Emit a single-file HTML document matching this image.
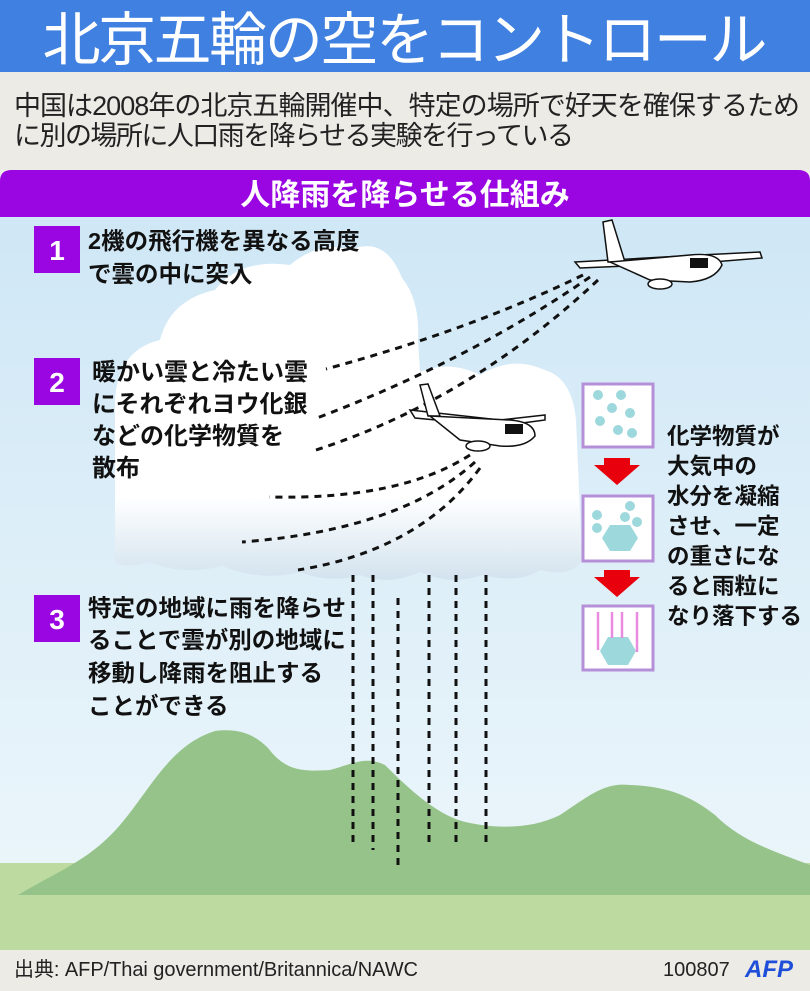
<!DOCTYPE html>
<html><head><meta charset="utf-8"><style>
body{margin:0;width:810px;height:986px;overflow:hidden;font-family:"Liberation Sans","Noto Sans CJK JP",sans-serif;background:#ecebe6}
svg text{font-family:"Liberation Sans","Noto Sans CJK JP",sans-serif}
</style></head><body>
<svg width="810" height="986" viewBox="0 0 810 986" xmlns="http://www.w3.org/2000/svg">
<defs>
<linearGradient id="sky" x1="0" y1="0" x2="0" y2="1"><stop offset="0" stop-color="#cfe7f6"/><stop offset="1" stop-color="#eef7fb"/></linearGradient>
<linearGradient id="cl" x1="0" y1="0" x2="0" y2="1"><stop offset="0.75" stop-color="#ffffff"/><stop offset="1" stop-color="#d3e3ee"/></linearGradient>
</defs>
<rect x="0" y="0" width="810" height="72" fill="#3f80e0"/>
<text x="405" y="60" font-size="58" fill="#fff" text-anchor="middle" textLength="725">北京五輪の空をコントロール</text>
<rect x="0" y="72" width="810" height="100" fill="#ecebe6"/>
<text x="14" y="115" font-size="27" fill="#222" textLength="786">中国は2008年の北京五輪開催中、特定の場所で好天を確保するため</text>
<text x="14" y="145" font-size="27" fill="#222" textLength="560">に別の場所に人口雨を降らせる実験を行っている</text>
<rect x="0" y="215" width="810" height="735" fill="url(#sky)"/>
<path d="M0,181 Q0,170 12,170 L798,170 Q810,170 810,181 L810,217 L0,217 Z" fill="#9a06e2"/>
<text x="405" y="205" font-size="30" font-weight="bold" fill="#fff" text-anchor="middle">人降雨を降らせる仕組み</text>
<rect x="0" y="863" width="810" height="87" fill="#bddba0"/>
<path d="M18,895 C60,870 90,860 120,825 C150,790 170,745 215,731 C240,728 255,735 268,748 C285,770 300,772 330,770 C350,765 365,755 385,765 C410,790 440,818 470,823 C495,828 530,830 560,815 C590,795 605,782 630,785 C665,786 690,795 715,815 C740,840 770,850 810,865 L810,895 Z" fill="#96c389"/>
<path d="M115,560 L115,400 Q118,350 160,340 Q170,300 215,290 Q240,258 290,265 Q320,240 350,250 Q385,235 402,278 Q420,300 418,340 L420,372 Q450,360 480,375 Q512,355 545,370 Q572,378 576,420 L582,560 Q572,578 540,570 Q520,584 482,575 Q452,586 420,572 Q390,586 360,575 Q330,584 300,572 Q262,582 222,566 Q182,576 150,562 Q120,570 115,560 Z" fill="url(#cl)"/>
<g stroke="#111" stroke-width="3" fill="none" stroke-dasharray="7,6">
<path d="M583,275 Q470,330 326,369"/>
<path d="M590,277 Q470,360 317,418"/>
<path d="M598,280 Q470,400 316,450"/>
<path d="M470,455 Q400,500 269,497"/>
<path d="M475,462 Q400,530 242,542"/>
<path d="M480,468 Q420,550 298,570"/>
<path d="M353,575 V847"/><path d="M373,575 V850"/><path d="M398,598 V866"/><path d="M429,575 V848"/><path d="M456,575 V848"/><path d="M486,575 V843"/>
</g>
<g stroke="#111" stroke-width="1.5" fill="#fff">
<path d="M575,262 L700,255 L760,252 L762,258 L700,263 L580,268 Z"/>
<path d="M603,222 L612,220 L625,262 L608,262 Z"/>
<path d="M610,262 L690,255 Q718,252 722,265 Q715,280 690,282 L650,280 Z"/>
<ellipse cx="660" cy="284" rx="12" ry="5"/>
<path d="M410,410 L500,420 L545,415 L545,420 L500,426 L415,418 Z"/>
<path d="M420,385 L428,384 L440,416 L428,416 Z"/>
<path d="M430,416 L510,420 Q535,422 535,436 Q525,448 500,446 L460,440 Z"/>
<ellipse cx="478" cy="446" rx="12" ry="5"/>
</g>
<g fill="#111"><rect x="690" y="258" width="18" height="10"/><rect x="505" y="424" width="18" height="10"/></g>
<g fill="#9a06e2"><rect x="34" y="226" width="46" height="47"/><rect x="34" y="358" width="46" height="47"/><rect x="34" y="595" width="46" height="47"/></g>
<g font-size="28" font-weight="bold" fill="#fff" text-anchor="middle"><text x="57" y="260">1</text><text x="57" y="392">2</text><text x="57" y="629">3</text></g>
<g font-size="24" font-weight="bold" fill="#111">
<text x="88" y="249" font-size="23.5">2機の飛行機を異なる高度</text>
<text x="88" y="282" font-size="23.5">で雲の中に突入</text>
<text x="92" y="380">暖かい雲と冷たい雲</text>
<text x="92" y="412">にそれぞれヨウ化銀</text>
<text x="92" y="444">などの化学物質を</text>
<text x="92" y="476">散布</text>
<text x="88" y="616" font-size="23.5">特定の地域に雨を降らせ</text>
<text x="88" y="648" font-size="23.5">ることで雲が別の地域に</text>
<text x="88" y="681" font-size="23.5">移動し降雨を阻止する</text>
<text x="88" y="714" font-size="23.5">ことができる</text>
</g>
<g font-size="22.5" font-weight="bold" fill="#111">
<text x="667" y="444">化学物質が</text>
<text x="667" y="474">大気中の</text>
<text x="667" y="504">水分を凝縮</text>
<text x="667" y="534">させ、一定</text>
<text x="667" y="564">の重さにな</text>
<text x="667" y="594">ると雨粒に</text>
<text x="667" y="624">なり落下する</text>
</g>
<g fill="#fff" stroke="#b590d8" stroke-width="3"><rect x="583" y="384" width="70" height="63"/><rect x="583" y="496" width="70" height="65"/><rect x="583" y="606" width="70" height="64"/></g>
<g fill="#9dd8dc"><circle cx="598" cy="395" r="5"/><circle cx="621" cy="395" r="5"/><circle cx="612" cy="408" r="5"/><circle cx="630" cy="413" r="5"/><circle cx="600" cy="421" r="5"/><circle cx="618" cy="430" r="5"/><circle cx="632" cy="433" r="5"/>
<circle cx="630" cy="506" r="5"/><circle cx="625" cy="517" r="5"/><circle cx="597" cy="515" r="5"/><circle cx="597" cy="528" r="5"/><circle cx="637" cy="522" r="5"/>
<path d="M610,525 L630,525 L638,538 L630,551 L610,551 L602,538 Z"/>
<path d="M608,637 L628,637 L636,651 L628,665 L608,665 L600,651 Z"/></g>
<g stroke="#e98ce0" stroke-width="2.5"><path d="M598,612 V650 M612,612 V638 M622,612 V638 M637,612 V652"/></g>
<g fill="#e8000c"><path d="M604,458 H630 V465 H640 L617,485 L594,465 H604 Z"/><path d="M604,570 H630 V577 H640 L617,597 L594,577 H604 Z"/></g>
<rect x="0" y="950" width="810" height="36" fill="#ecebe6"/>
<text x="14" y="976" font-size="20" fill="#222" textLength="404">出典: AFP/Thai government/Britannica/NAWC</text>
<text x="663" y="976" font-size="20" fill="#222">100807</text>
<text x="745" y="977" font-size="24" font-weight="bold" font-style="italic" fill="#1f4fd8">AFP</text>
</svg>
</body></html>
